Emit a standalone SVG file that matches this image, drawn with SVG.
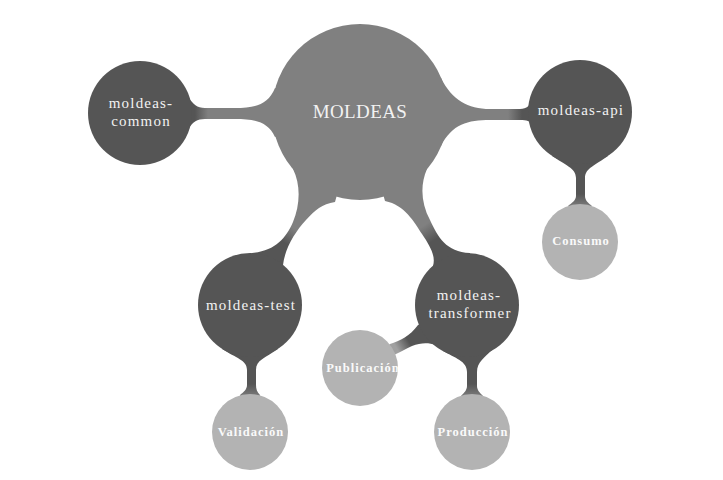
<svg xmlns="http://www.w3.org/2000/svg" width="723" height="480" viewBox="0 0 723 480">
<style>
.root{fill:#808080}
.main{fill:#555555}
.sub{fill:#b3b3b3}
.t1{font-family:"Liberation Serif","Times New Roman",serif;font-size:19px;fill:#f2f2f2;text-anchor:middle;letter-spacing:0.4px}
.t2{font-family:"Liberation Serif","Times New Roman",serif;font-size:15px;fill:#f2f2f2;text-anchor:middle;letter-spacing:1.2px}
.t3{font-family:"Liberation Serif","Times New Roman",serif;font-size:12.5px;font-weight:bold;fill:#fafafa;text-anchor:middle;letter-spacing:1px}
</style>
<defs>
<linearGradient id="gCommon" gradientUnits="userSpaceOnUse" x1="208" y1="0" x2="195" y2="0"><stop offset="0" stop-color="#808080"/><stop offset="1" stop-color="#555555"/></linearGradient>
<linearGradient id="gApi" gradientUnits="userSpaceOnUse" x1="508" y1="0" x2="522" y2="0"><stop offset="0" stop-color="#808080"/><stop offset="1" stop-color="#555555"/></linearGradient>
<linearGradient id="gTest" gradientUnits="userSpaceOnUse" x1="295" y1="229" x2="285" y2="243"><stop offset="0" stop-color="#808080"/><stop offset="1" stop-color="#555555"/></linearGradient>
<linearGradient id="gTrans" gradientUnits="userSpaceOnUse" x1="423" y1="226" x2="433" y2="241"><stop offset="0" stop-color="#808080"/><stop offset="1" stop-color="#555555"/></linearGradient>
<linearGradient id="gCons" gradientUnits="userSpaceOnUse" x1="0" y1="194" x2="0" y2="206"><stop offset="0" stop-color="#555555"/><stop offset="1" stop-color="#7a7a7a"/></linearGradient>
<linearGradient id="gVal" gradientUnits="userSpaceOnUse" x1="0" y1="384" x2="0" y2="396"><stop offset="0" stop-color="#555555"/><stop offset="1" stop-color="#7a7a7a"/></linearGradient>
<linearGradient id="gProd" gradientUnits="userSpaceOnUse" x1="0" y1="384" x2="0" y2="396"><stop offset="0" stop-color="#555555"/><stop offset="1" stop-color="#7a7a7a"/></linearGradient>
<linearGradient id="gPub" gradientUnits="userSpaceOnUse" x1="408" y1="340" x2="396" y2="347"><stop offset="0" stop-color="#555555"/><stop offset="1" stop-color="#a0a0a0"/></linearGradient>
<clipPath id="clipPub"><circle cx="360" cy="368" r="38"/></clipPath>
</defs>
<g id="connectors">
<path fill="url(#gCommon)" d="M275,88 C268,105 255,108 235,108 L205,108 C197,108 193,104 189,98 L140,113 L189,128 C193,122 197,119 205,119 L235,119 C255,119 268,122 275,137 L360,112 Z"/>
<path fill="url(#gApi)" d="M441,78 C452,100 468,109 490,109 L520,109 C527,109 530,105 532,100 L580,112 L532,124 C530,121 527,120 520,120 L490,120 C468,120 452,124 441,146 L360,112 Z"/>
<path fill="url(#gTest)" d="M293,169 C301,185 300,205 293,222 C286,238 275,251 252,253 L250,305 L283,265 C285,248 295,232 306,220 C315,210 322,204 335,202 L360,112 Z"/>
<path fill="url(#gTrans)" d="M427,169 C420,185 421,203 430,220 C438,237 446,252 470,253 L467,305 L433,266 C436,256 430,246 422,234 C414,222 405,205 385,201 L360,112 Z"/>
<path fill="url(#gCons)" d="M552,156 C565,165 576,168 576,178 L576,196 C576,200 572,203 568,206 L580,242 L592,206 C588,203 585,200 585,196 L585,178 C585,168 596,165 608,156 L580,112 Z"/>
<path fill="url(#gVal)" d="M222,349 C236,358 247,360 247,370 L247,385 C247,389 244,392 240,395 L250,432 L260,395 C257,392 256,389 256,385 L256,370 C256,360 265,358 278,349 L250,305 Z"/>
<path fill="url(#gProd)" d="M443,351 C455,358 467,361 467,372 L467,386 C467,390 464,393 461,396 L472,432 L483,396 C480,393 477,390 477,386 L477,372 C477,362 485,357 492,350 L467,305 Z"/>
<path fill="url(#gPub)" d="M390,344 C400,341 410,336 418,325 L467,305 L444,351 C436,343 425,341 412,346 C406,349 402,351 396,354 L360,368 Z"/>
</g>
<g id="node-moldeas"><circle class="root" cx="360" cy="112" r="88"/><text class="t1" x="360" y="118">MOLDEAS</text></g>
<g id="node-common"><circle class="main" cx="140" cy="113" r="52"/><text class="t2" x="141" y="108">moldeas-</text><text class="t2" x="141" y="126">common</text></g>
<g id="node-api"><circle class="main" cx="580" cy="112" r="52"/><text class="t2" x="581" y="115">moldeas-api</text></g>
<g id="node-test"><circle class="main" cx="250" cy="305" r="52"/><text class="t2" x="251" y="310">moldeas-test</text></g>
<g id="node-transformer"><circle class="main" cx="467" cy="305" r="52"/><text class="t2" x="469" y="300">moldeas-</text><text class="t2" x="470" y="318">transformer</text></g>
<g id="node-consumo"><circle class="sub" cx="580" cy="242" r="38"/><text class="t3" x="581" y="245">Consumo</text></g>
<g id="node-validacion"><circle class="sub" cx="250" cy="432" r="38"/><text class="t3" x="251" y="436">Validación</text></g>
<g id="node-produccion"><circle class="sub" cx="472" cy="432" r="38"/><text class="t3" x="473" y="436">Producción</text></g>
<g id="node-publicacion"><circle class="sub" cx="360" cy="368" r="38"/><text class="t3" x="363" y="372" clip-path="url(#clipPub)">Publicación</text></g>
</svg>
